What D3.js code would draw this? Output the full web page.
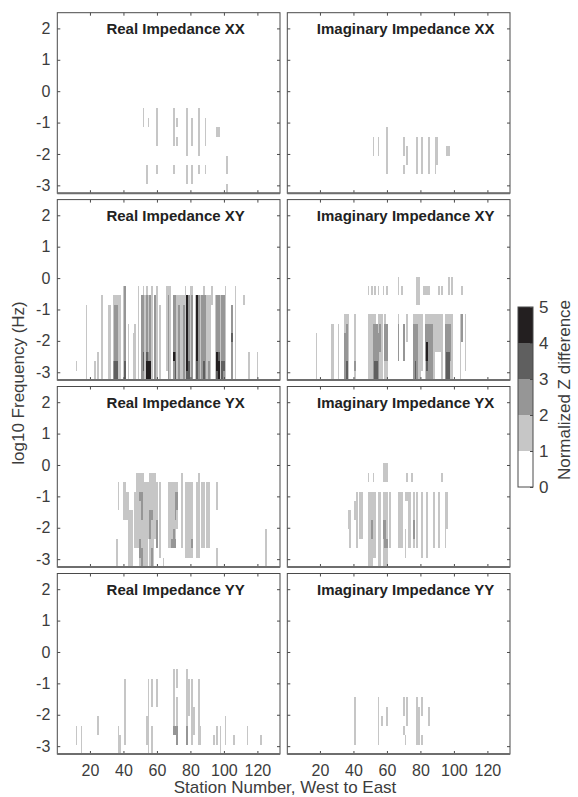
<!DOCTYPE html>
<html><head><meta charset="utf-8">
<script src="https://cdn.jsdelivr.net/npm/d3@7"></script>
<style>body{margin:0;background:#fff} text{font-family:"Liberation Sans",Arial,Helvetica,sans-serif}</style>
</head><body><svg id="c" width="578" height="797"></svg>
<script>
// log10 frequency row centres (bottom to top); each level string below lists rows bottom->top
const freqs = [-3.1,-2.8,-2.5,-2.2,-1.9,-1.6,-1.3,-1.0,-0.7,-0.4,-0.1];
const stationDomain = [1, 133];
const freqDomain = [-3.25, 2.5];
const yTicks = [2,1,0,-1,-2,-3];
const xTicks = [20,40,60,80,100,120];
const colorTicks = [0,1,2,3,4,5];
const colorClasses = ["#ffffff","#c6c6c6","#969696","#5f5f5f","#231f20"];
const panelTitles = ["Real Impedance XX","Imaginary Impedance XX","Real Impedance XY","Imaginary Impedance XY",
                     "Real Impedance YX","Imaginary Impedance YX","Real Impedance YY","Imaginary Impedance YY"];

// [station, class digits per frequency row (bottom -> top)]
const realXX = [[52,"00000001100"],[54,"01100000000"],[55,"00000001000"],[60,"00100111100"],[70,"00100111100"],
 [72,"00000101000"],[78,"01101111100"],[81,"01100111000"],[85,"00101111100"],[89,"00100111000"],
 [96,"00000010000"],[97,"00000010000"],[102,"10110000000"]];
const imagXX = [[52,"00001100000"],[55,"00001100000"],[60,"00111110000"],[70,"00101100000"],[72,"00011000000"],
 [78,"00111100000"],[81,"00111100000"],[85,"00111100000"],[89,"00111100000"],[90,"00011100000"],
 [96,"00001000000"],[97,"00001000000"]];
const realXY = [[12,"01000000000"],[18,"11111111000"],[23,"11000000000"],[25,"11100000000"],[27,"11111111100"],
 [31,"11111111000"],[32,"11111111000"],[34,"22111111100"],[35,"33222222100"],[36,"33222222100"],[37,"11111111100"],
 [38,"11111111100"],[40,"11111111110"],[41,"33222222220"],[43,"11111100000"],[46,"11111000000"],[47,"11111100000"],
 [49,"11111111110"],[51,"22222222200"],[52,"23322222210"],[53,"11111111100"],[54,"44322222210"],[55,"44211111100"],
 [56,"44222222200"],[57,"11111111110"],[59,"22222222200"],[60,"11111111110"],[62,"11111111000"],[66,"01111111110"],
 [67,"22222222210"],[68,"11111111110"],[70,"22422222200"],[71,"33322222200"],[72,"11111111100"],[73,"22222222100"],
 [74,"11111111100"],[75,"11111111100"],[76,"22222222100"],[77,"11111111110"],[78,"34444444400"],[79,"33222222200"],
 [80,"11111111110"],[81,"22222222210"],[83,"11111111100"],[84,"33444444400"],[85,"22222222200"],[86,"11111111100"],
 [87,"22222222200"],[88,"33222222210"],[89,"22222222200"],[90,"11111111100"],[91,"22111111100"],[92,"11111111100"],
 [93,"00000000110"],[95,"11111111100"],[96,"34422222200"],[97,"44322222200"],[98,"11111111100"],[99,"33222222200"],
 [100,"23222222200"],[101,"11111111110"],[105,"22223222000"],[107,"11111111110"],[112,"00000000100"],
 [115,"11100000000"],[120,"11100000000"]];
const imagXY = [[18,"11111000000"],[27,"11111100000"],[28,"11111100000"],[31,"11111100000"],[35,"22222110000"],
 [36,"33222210000"],[37,"11111110000"],[41,"12111110000"],[49,"11111110010"],[50,"11111110000"],[51,"11111110010"],
 [52,"22222210000"],[53,"33222210010"],[54,"33222200000"],[55,"22222110010"],[56,"11122210000"],[57,"11111110000"],
 [58,"00000000010"],[59,"11222210000"],[60,"11222200010"],[67,"00222210011"],[69,"00000000010"],[70,"00222200000"],
 [72,"00001110000"],[76,"22222210000"],[77,"33222210000"],[78,"22222210111"],[79,"11111110111"],[80,"11111110000"],
 [81,"01111110000"],[82,"00000000010"],[83,"11222210010"],[84,"23442210010"],[85,"22222210010"],[86,"22222210000"],
 [87,"22222210000"],[88,"11111110000"],[89,"00011110000"],[90,"00011110000"],[91,"00011110010"],[92,"00011110000"],
 [93,"11111110010"],[95,"22222210000"],[96,"33322210000"],[97,"33322210011"],[98,"11222210000"],[99,"11111110011"],
 [104,"11111110000"],[105,"00002220010"],[107,"01111110000"]];
const realYX = [[36,"11100000000"],[37,"00000011100"],[40,"00000111100"],[41,"00000111100"],[42,"00000111000"],
 [43,"11111111000"],[44,"11111100000"],[45,"11111100000"],[47,"00111111000"],[48,"00111111110"],[49,"00111111110"],
 [50,"12211112110"],[51,"22111222110"],[52,"11111111110"],[53,"11111111100"],[54,"11111111100"],[55,"00011111100"],
 [56,"11122211110"],[57,"22111211110"],[58,"11111111110"],[59,"00011111110"],[60,"00222111100"],[62,"01111111100"],
 [64,"10000000000"],[67,"00111111100"],[68,"00111111100"],[69,"00211111100"],[70,"00221111100"],[71,"00211222100"],
 [72,"00001122100"],[75,"00111111110"],[77,"01111111100"],[78,"01111111100"],[79,"01111111100"],[80,"01111111100"],
 [81,"01211111100"],[84,"01111111100"],[85,"01111111110"],[87,"00111111100"],[88,"00111111100"],[90,"00111111100"],
 [91,"00111111100"],[96,"11000011100"],[125,"11110000000"]];
const imagYX = [[37,"00001100000"],[38,"00111100000"],[41,"00000110000"],[42,"00111111000"],[44,"00011111000"],
 [45,"00011111000"],[49,"11111111010"],[50,"11111111000"],[51,"11122111000"],[52,"01111111010"],[53,"01111111000"],
 [55,"11111111000"],[56,"11111111000"],[58,"11122111011"],[59,"11222111011"],[60,"11211111011"],[62,"00111111000"],
 [67,"00111111000"],[68,"00111111000"],[69,"00111111000"],[71,"01110001000"],[72,"00000001010"],[73,"00111111000"],
 [74,"00111111000"],[75,"00000000010"],[76,"00122111000"],[78,"00111111000"],[81,"01111111000"],[84,"01111111000"],
 [88,"00111111000"],[91,"00111111000"],[93,"00000000010"],[95,"00111111000"],[96,"00001111000"]];
const realYY = [[12,"01100000000"],[15,"11100000000"],[25,"00110000000"],[37,"11100000000"],[38,"11000000000"],
 [41,"01111111000"],[54,"01110000000"],[55,"11111111000"],[57,"11100111000"],[60,"00000111000"],[70,"00211111100"],
 [71,"00200000000"],[72,"02211101100"],[78,"02211111100"],[79,"00001111000"],[81,"01111111000"],[82,"00111000000"],
 [85,"01111111000"],[86,"01100000000"],[94,"01000000000"],[96,"01100000000"],[98,"11100000000"],[101,"01110000000"],
 [106,"01000000000"],[114,"01100000000"],[122,"01000000000"]];
const imagYY = [[41,"01111100000"],[55,"01111100000"],[57,"00010000000"],[60,"00011000000"],[70,"00101100000"],
 [71,"01000000000"],[72,"00011100000"],[78,"01111100000"],[79,"01111000000"],[81,"01001100000"],[85,"00011000000"]];

const panelData = [realXX, imagXX, realXY, imagXY, realYX, imagYX, realYY, imagYY];

const svg = d3.select("#c");
const colX = [57.3, 287.3], pw = 222.7, ph = 180.5, rowY = [12.7, 199.6, 386.5, 573.5];
const axisCol = "#4a4a4a", textCol = "#3c3c3c";
const color = d3.scaleThreshold().domain([1,2,3,4]).range(colorClasses);
const fstep = freqs[1]-freqs[0];

panelData.forEach((data, i) => {
  const r = Math.floor(i/2), c = i%2;
  const g = svg.append("g").attr("transform", `translate(${colX[c]},${rowY[r]})`);
  const x = d3.scaleLinear().domain([stationDomain[0]-0.5, stationDomain[1]+0.5]).range([0, pw]);
  const y = d3.scaleLinear().domain(freqDomain).range([ph, 0]);
  const cells = [];
  data.forEach(([s, str]) => str.split("").forEach((d, k) => { if (+d > 0) cells.push({s, f: freqs[k], v: +d}); }));
  g.append("g").attr("shape-rendering","crispEdges").selectAll("rect").data(cells).join("rect")
    .attr("x", d => x(d.s-0.5)).attr("width", d => x(d.s+0.5)-x(d.s-0.5))
    .attr("y", d => y(d.f+fstep/2)).attr("height", d => y(d.f-fstep/2)-y(d.f+fstep/2))
    .attr("fill", d => color(d.v));
  // axes with inward ticks
  const yl = g.append("g").call(d3.axisLeft(y).tickValues(yTicks).tickSize(-3).tickPadding(7).tickFormat(d => d < 0 ? "-"+Math.abs(d) : d));
  const yr = g.append("g").attr("transform",`translate(${pw},0)`).call(d3.axisRight(y).tickValues(yTicks).tickSize(-3).tickFormat(""));
  const xt = g.append("g").call(d3.axisTop(x).tickValues(xTicks).tickSize(-3).tickFormat(""));
  const xb = g.append("g").attr("transform",`translate(0,${ph})`).call(d3.axisBottom(x).tickValues(xTicks).tickSize(-3).tickPadding(8));
  [yl,yr,xt,xb].forEach(a => { a.select(".domain").remove(); a.selectAll("line").attr("stroke", axisCol); a.selectAll("text").attr("fill", textCol).attr("font-size", 16); });
  if (c === 1) yl.selectAll("text").remove();
  if (r !== 3) xb.selectAll("text").remove();
  xb.selectAll("text").attr("dy","0.85em");
  g.append("rect").attr("width", pw).attr("height", ph).attr("fill","none").attr("stroke", axisCol).attr("stroke-width",1);
  g.append("line").attr("x1",0).attr("x2",pw).attr("y1",ph).attr("y2",ph).attr("stroke","#6e6e6e").attr("stroke-width",2);
  g.append("text").attr("x", pw/2+7).attr("y", 21).attr("text-anchor","middle").attr("font-weight","bold")
    .attr("font-size", 15).attr("fill","#222").text(panelTitles[i]);
});

// axis titles
svg.append("text").attr("transform","translate(24,383) rotate(-90)").attr("text-anchor","middle")
  .attr("font-size",17).attr("fill",textCol).text("log10 Frequency (Hz)");
svg.append("text").attr("x",285).attr("y",793).attr("text-anchor","middle")
  .attr("font-size",17).attr("fill",textCol).text("Station Number, West to East");

// colorbar
const cb = svg.append("g").attr("transform","translate(518,307)");
const cbH = 180, cbW = 15;
const cy = d3.scaleLinear().domain([0,5]).range([cbH,0]);
cb.append("g").attr("shape-rendering","crispEdges").selectAll("rect").data(d3.range(5)).join("rect")
  .attr("x",0).attr("width",cbW).attr("y", d => cy(d+1)).attr("height", d => cy(d)-cy(d+1)).attr("fill", d => color(d));
const ca = cb.append("g").attr("transform",`translate(${cbW},0)`)
  .call(d3.axisRight(cy).tickValues(colorTicks).tickSize(-3).tickPadding(6).tickFormat(d3.format("d")));
ca.select(".domain").remove();
ca.selectAll("line").attr("stroke",axisCol);
ca.selectAll("text").attr("font-size",17).attr("fill",textCol);
cb.append("rect").attr("width",cbW).attr("height",cbH).attr("fill","none").attr("stroke",axisCol);
svg.append("text").attr("transform","translate(570,390) rotate(-90)").attr("text-anchor","middle")
  .attr("font-size",17).attr("fill",textCol).text("Normalized Z difference");
</script></body></html>
